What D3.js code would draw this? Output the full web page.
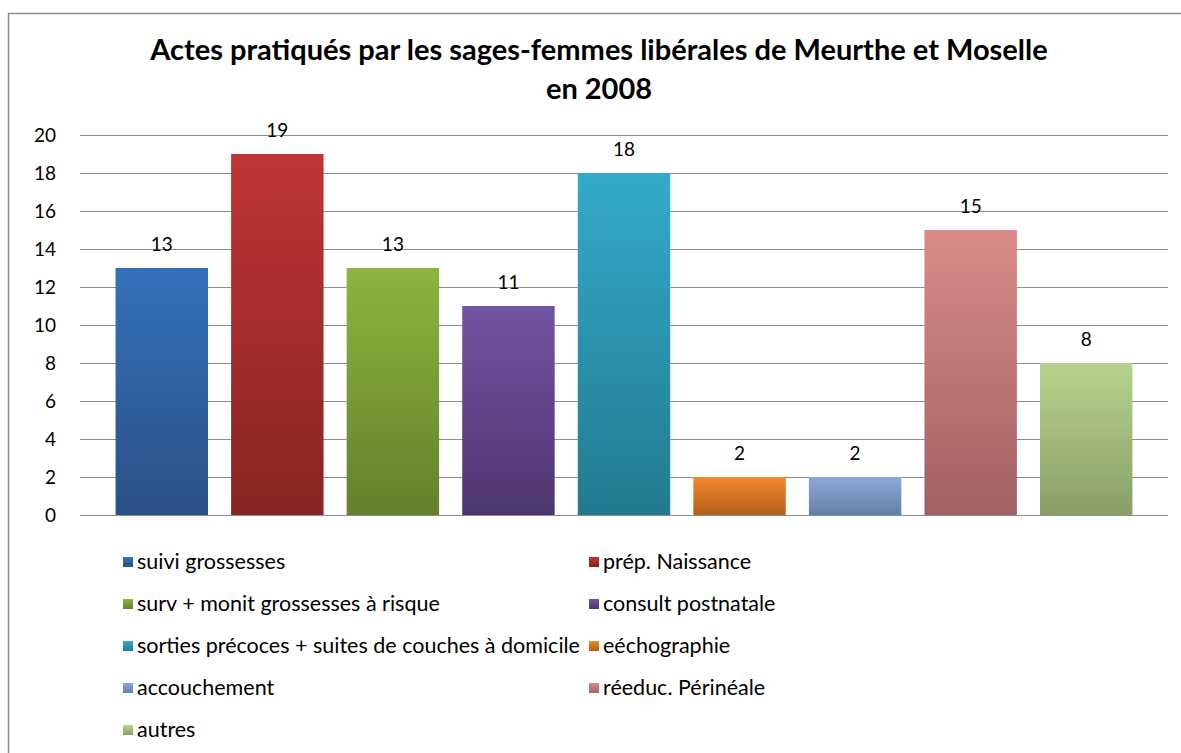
<!DOCTYPE html>
<html><head><meta charset="utf-8">
<script src="https://cdn.jsdelivr.net/npm/d3@7"></script>
<style>html,body{margin:0;padding:0;background:#fff;}svg{display:block;}</style>
</head><body>
<svg id="chart" width="1181" height="753"></svg>
<script>
const categories = ["suivi grossesses","prép. Naissance","surv + monit grossesses à risque","consult postnatale","sorties précoces + suites de couches à domicile","eéchographie","accouchement","réeduc. Périnéale","autres"];
const values = [13,19,13,11,18,2,2,15,8];
const yTicks = [0,2,4,6,8,10,12,14,16,18,20];
const topColors = ["#3571BA","#BF3533","#8DB53F","#7253A1","#34AACA","#F28A2B","#8CA8D8","#DA8B89","#B8D28E"];
const bottomColors = ["#2A5087","#882422","#62812B","#4E3670","#227A8F","#B65E1A","#6580A7","#A16161","#88A066"];
const title = ["Actes pratiqués par les sages-femmes libérales de Meurthe et Moselle","en 2008"];

const svg = d3.select("#chart");
const font = "Lato, 'Open Sans', sans-serif";

// frame
svg.append("path").attr("d","M8.5,753 L8.5,13.5 L1181,13.5").attr("fill","none").attr("stroke","#8c8c8c").attr("stroke-width",1.5);

const x = d3.scaleBand().domain(categories).range([104,1144]).paddingInner(0.2).paddingOuter(0.1);
const y = d3.scaleLinear().domain([0,20]).range([515,135]);

// gridlines
svg.append("g").selectAll("line").data(yTicks).join("line")
  .attr("x1",80).attr("x2",1168).attr("y1",d=>Math.round(y(d))+0.5).attr("y2",d=>Math.round(y(d))+0.5)
  .attr("stroke","#8e8e8e").attr("stroke-width",1.2);

// y axis labels
const yAxis = d3.axisLeft(y).tickValues(yTicks).tickSize(0).tickPadding(0);
const ga = svg.append("g").attr("transform","translate(56,0)").call(yAxis);
ga.select(".domain").remove();
ga.selectAll("text").attr("font-family",font).attr("font-size",19).attr("fill","#000");

// gradients
const defs = svg.append("defs");
categories.forEach((c,i)=>{
  const g = defs.append("linearGradient").attr("id","g"+i).attr("x1",0).attr("y1",0).attr("x2",0).attr("y2",1);
  g.append("stop").attr("offset","0%").attr("stop-color",topColors[i]);
  g.append("stop").attr("offset","100%").attr("stop-color",bottomColors[i]);
});

// bars
svg.append("g").selectAll("rect").data(values).join("rect")
  .attr("x",(d,i)=>x(categories[i])).attr("width",x.bandwidth())
  .attr("y",d=>y(d)).attr("height",d=>y(0)-y(d))
  .attr("fill",(d,i)=>`url(#g${i})`);

// value labels
svg.append("g").selectAll("text").data(values).join("text")
  .attr("x",(d,i)=>x(categories[i])+x.bandwidth()/2).attr("y",d=>y(d)-17)
  .attr("text-anchor","middle").attr("font-family",font).attr("font-size",19).attr("fill","#000")
  .text(d=>d);

// title
svg.append("g").selectAll("text").data(title).join("text")
  .attr("x",599).attr("y",(d,i)=>60+i*39).attr("text-anchor","middle")
  .attr("font-family",font).attr("font-weight","bold").attr("font-size",29).attr("fill","#000")
  .text(d=>d);

// legend
const leg = svg.append("g").selectAll("g").data(categories).join("g")
  .attr("transform",(d,i)=>`translate(${i%2===0?123:589},${562+Math.floor(i/2)*42})`);
leg.append("rect").attr("x",0).attr("y",-5).attr("width",10).attr("height",10).attr("fill",(d,i)=>`url(#g${i})`);
leg.append("text").attr("x",14).attr("y",7).attr("font-family",font).attr("font-size",21.5).attr("fill","#000").text(d=>d);
</script>
</body></html>
